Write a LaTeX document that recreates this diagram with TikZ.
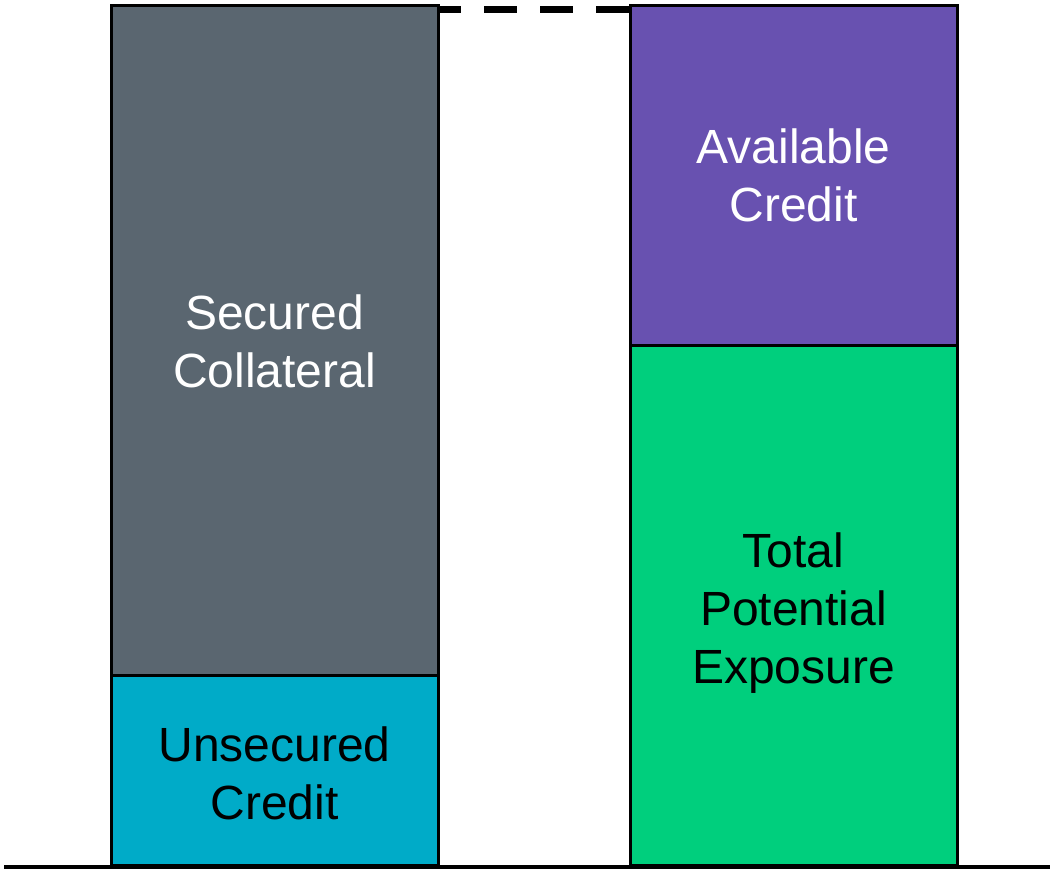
\documentclass[tikz,border=0pt]{standalone}
\usepackage{fontspec}
\setmainfont{Liberation Sans}
\definecolor{cgrey}{RGB}{90,102,112}
\definecolor{cteal}{RGB}{0,171,200}
\definecolor{cpurple}{RGB}{104,81,176}
\definecolor{cgreen}{RGB}{0,207,125}
\begin{document}
\begin{tikzpicture}[x=1pt,y=1pt,
  blk/.style={draw=black, line width=3pt, rectangle, inner sep=0pt, outer sep=0pt,
    minimum width=327pt},
  lbl/.style={align=center, font=\fontsize{48}{58}\selectfont, inner sep=0pt},
  baseln/.style={line width=4pt, draw=black},
  dashln/.style={line width=7pt, draw=black, dash pattern=on 33pt off 23pt, dash phase=10pt}]
\useasboundingbox (0,0) rectangle (1050,869);
\node[blk, fill=cgrey, minimum height=670pt] (sec) at (274.5,528) {};
\node[blk, fill=cteal, minimum height=190pt] (uns) at (274.5,98) {};
\node[blk, fill=cpurple, minimum height=340pt] (avail) at (793.5,693) {};
\node[blk, fill=cgreen, minimum height=520pt] (tpe) at (793.5,263) {};
\node[lbl, text=white] (secl) at (sec.center) {Secured\\Collateral};
\node[lbl, text=black] (unsl) at ([yshift=-2pt]uns.center) {Unsecured\\Credit};
\node[lbl, text=white] (availl) at ([yshift=1pt]avail.center) {Available\\Credit};
\node[lbl, text=black] (tpel) at ([yshift=-7pt]tpe.center) {Total\\Potential\\Exposure};
\coordinate (bl) at (4,2);
\coordinate (br) at (1050,2);
\draw[baseln] (bl) -- (br);
\draw[dashln] ([yshift=-4pt]sec.north east) -- ([yshift=-4pt]avail.north west);
\end{tikzpicture}
\end{document}
